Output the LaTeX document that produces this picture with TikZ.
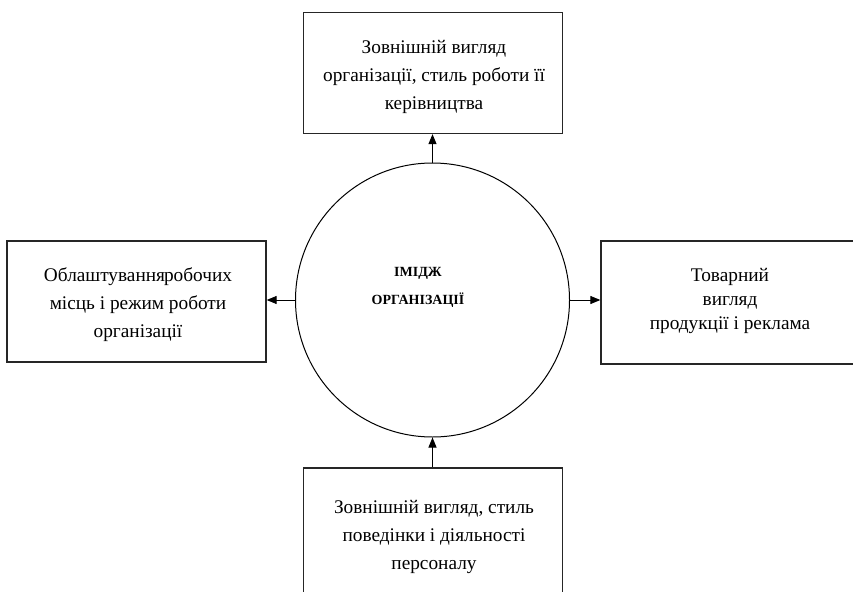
\documentclass[tikz,border=0pt]{standalone}
\usepackage{fontspec}
\setmainfont{Liberation Serif}
\usetikzlibrary{arrows.meta}
\begin{document}
\begin{tikzpicture}[x=1pt,y=-1pt,
  box/.style={draw=black!85,line width=1.3pt,minimum width=259pt,minimum height=121pt,inner sep=0pt},
  boxtext/.style={align=center,inner sep=0pt,font=\fontsize{19.3}{28}\selectfont},
  conn/.style={line width=1pt,-{Triangle[length=10pt,width=8pt]}}]
\clip (0,0) rectangle (853,591);
\fill[white] (0,0) rectangle (853,591);
\node[circle,draw=black,line width=1pt,minimum size=274pt,inner sep=0pt] (circ) at (432.5,300) {};
\node[font=\fontsize{14}{28}\selectfont\bfseries,align=center,inner sep=0pt] (title) at (418,287) {ІМІДЖ\\ОРГАНІЗАЦІЇ};
\node[box] (top) at (433,73) {};
\node[boxtext] (topt) at (434,77) {Зовнішній вигляд\\ організації, стиль роботи її\\ керівництва};
\node[box] (left) at (136.5,301.5) {};
\node[boxtext] (leftt) at (138,305) {Облаштування\hspace{-1pt}робочих\\ місць і режим роботи\\ організації};
\node[box,minimum height=123pt] (right) at (730.5,302.5) {};
\node[boxtext,font=\fontsize{19.3}{24}\selectfont] (rightt) at (730,301) {Товарний\\ вигляд\\ продукції і реклама};
\node[box,minimum height=134pt] (bot) at (433,535) {};
\node[boxtext] (bott) at (434,537) {Зовнішній вигляд, стиль\\ поведінки і діяльності\\ персоналу};
\draw[conn] (circ.north) -- (circ.north |- top.south);
\draw[conn] (circ.west) -- (left.east |- circ.west);
\draw[conn] (circ.east) -- (right.west |- circ.east);
\draw[conn] (circ.south |- bot.north) -- (circ.south);
\end{tikzpicture}
\end{document}
